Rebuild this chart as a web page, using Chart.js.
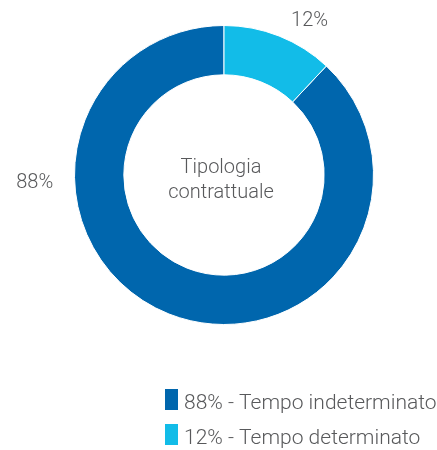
<!DOCTYPE html>
<html>
<head>
<meta charset="utf-8">
<script src="https://cdn.jsdelivr.net/npm/chart.js@4"></script>
<style>
  html, body { margin: 0; padding: 0; background: #ffffff; }
  #wrap { position: relative; width: 437px; height: 450px; }
</style>
</head>
<body>
<div id="wrap"><canvas id="c" width="437" height="450"></canvas></div>
<script>
// ---- data ----
const categories = ["Tempo indeterminato", "Tempo determinato"];
const values = [88, 12];
const centerTitle = ["Tipologia", "contrattuale"];

// ---- style ----
const colors = ["#0066ad", "#12bce8"];
const textColor = "#58595b";
const FONT = "Roboto, 'Liberation Sans', sans-serif";
const FONT_WEIGHT = "300";
// label placement per slice: angle (deg, clockwise from top), extra distance from outer edge
const labelPlacement = [
  { angle: 267.5, extra: 40 },
  { angle: 29, extra: 27 }
];

const pct = v => v + "%";
const total = values.reduce((a, b) => a + b, 0);
// the first slice ends at 12 o'clock, so the last slice starts there
const startRotation = 360 * (total - values[0]) / total;

const overlayPlugin = {
  id: "overlay",
  afterDraw(chart) {
    const ctx = chart.ctx;
    const meta = chart.getDatasetMeta(0);
    const arc0 = meta.data[0];
    const { x: cx, y: cy, outerRadius } = arc0.getProps(["x", "y", "outerRadius"], true);
    ctx.save();
    ctx.fillStyle = textColor;
    ctx.font = FONT_WEIGHT + " 20px " + FONT;
    ctx.textAlign = "center";
    ctx.textBaseline = "alphabetic";
    // center title
    ctx.fillText(centerTitle[0], cx - 3, cy - 2);
    ctx.fillText(centerTitle[1], cx - 3, cy + 23);
    // slice labels
    const ds = chart.data.datasets[0].data;
    ds.forEach((v, i) => {
      const p = labelPlacement[i];
      const a = (p.angle - 90) * Math.PI / 180;
      const r = outerRadius + p.extra;
      const lx = cx + Math.cos(a) * r;
      const ly = cy + Math.sin(a) * r;
      ctx.textBaseline = "middle";
      ctx.fillText(pct(v), lx, ly);
    });
    // legend
    ctx.font = FONT_WEIGHT + " 21px " + FONT;
    ctx.textAlign = "left";
    ctx.textBaseline = "alphabetic";
    const lx0 = 165, ly0 = 389, rowH = 35;
    chart.data.labels.forEach((lab, i) => {
      const y = ly0 + i * rowH;
      ctx.fillStyle = colors[i];
      ctx.fillRect(lx0, y, 13, 21);
      ctx.fillStyle = textColor;
      ctx.fillText(pct(ds[i]) + " - " + lab, lx0 + 19, y + 20);
    });
    ctx.restore();
  }
};

new Chart(document.getElementById("c"), {
  type: "doughnut",
  data: {
    labels: categories,
    datasets: [{
      data: values,
      backgroundColor: colors,
      borderColor: "#ffffff",
      borderWidth: 1,
      hoverOffset: 0
    }]
  },
  options: {
    responsive: false,
    animation: false,
    rotation: startRotation,
    cutout: "67%",
    layout: { padding: { top: 25, bottom: 125, left: 74, right: 63 } },
    plugins: {
      legend: { display: false },
      tooltip: { enabled: false }
    }
  },
  plugins: [overlayPlugin]
});
</script>
</body>
</html>
